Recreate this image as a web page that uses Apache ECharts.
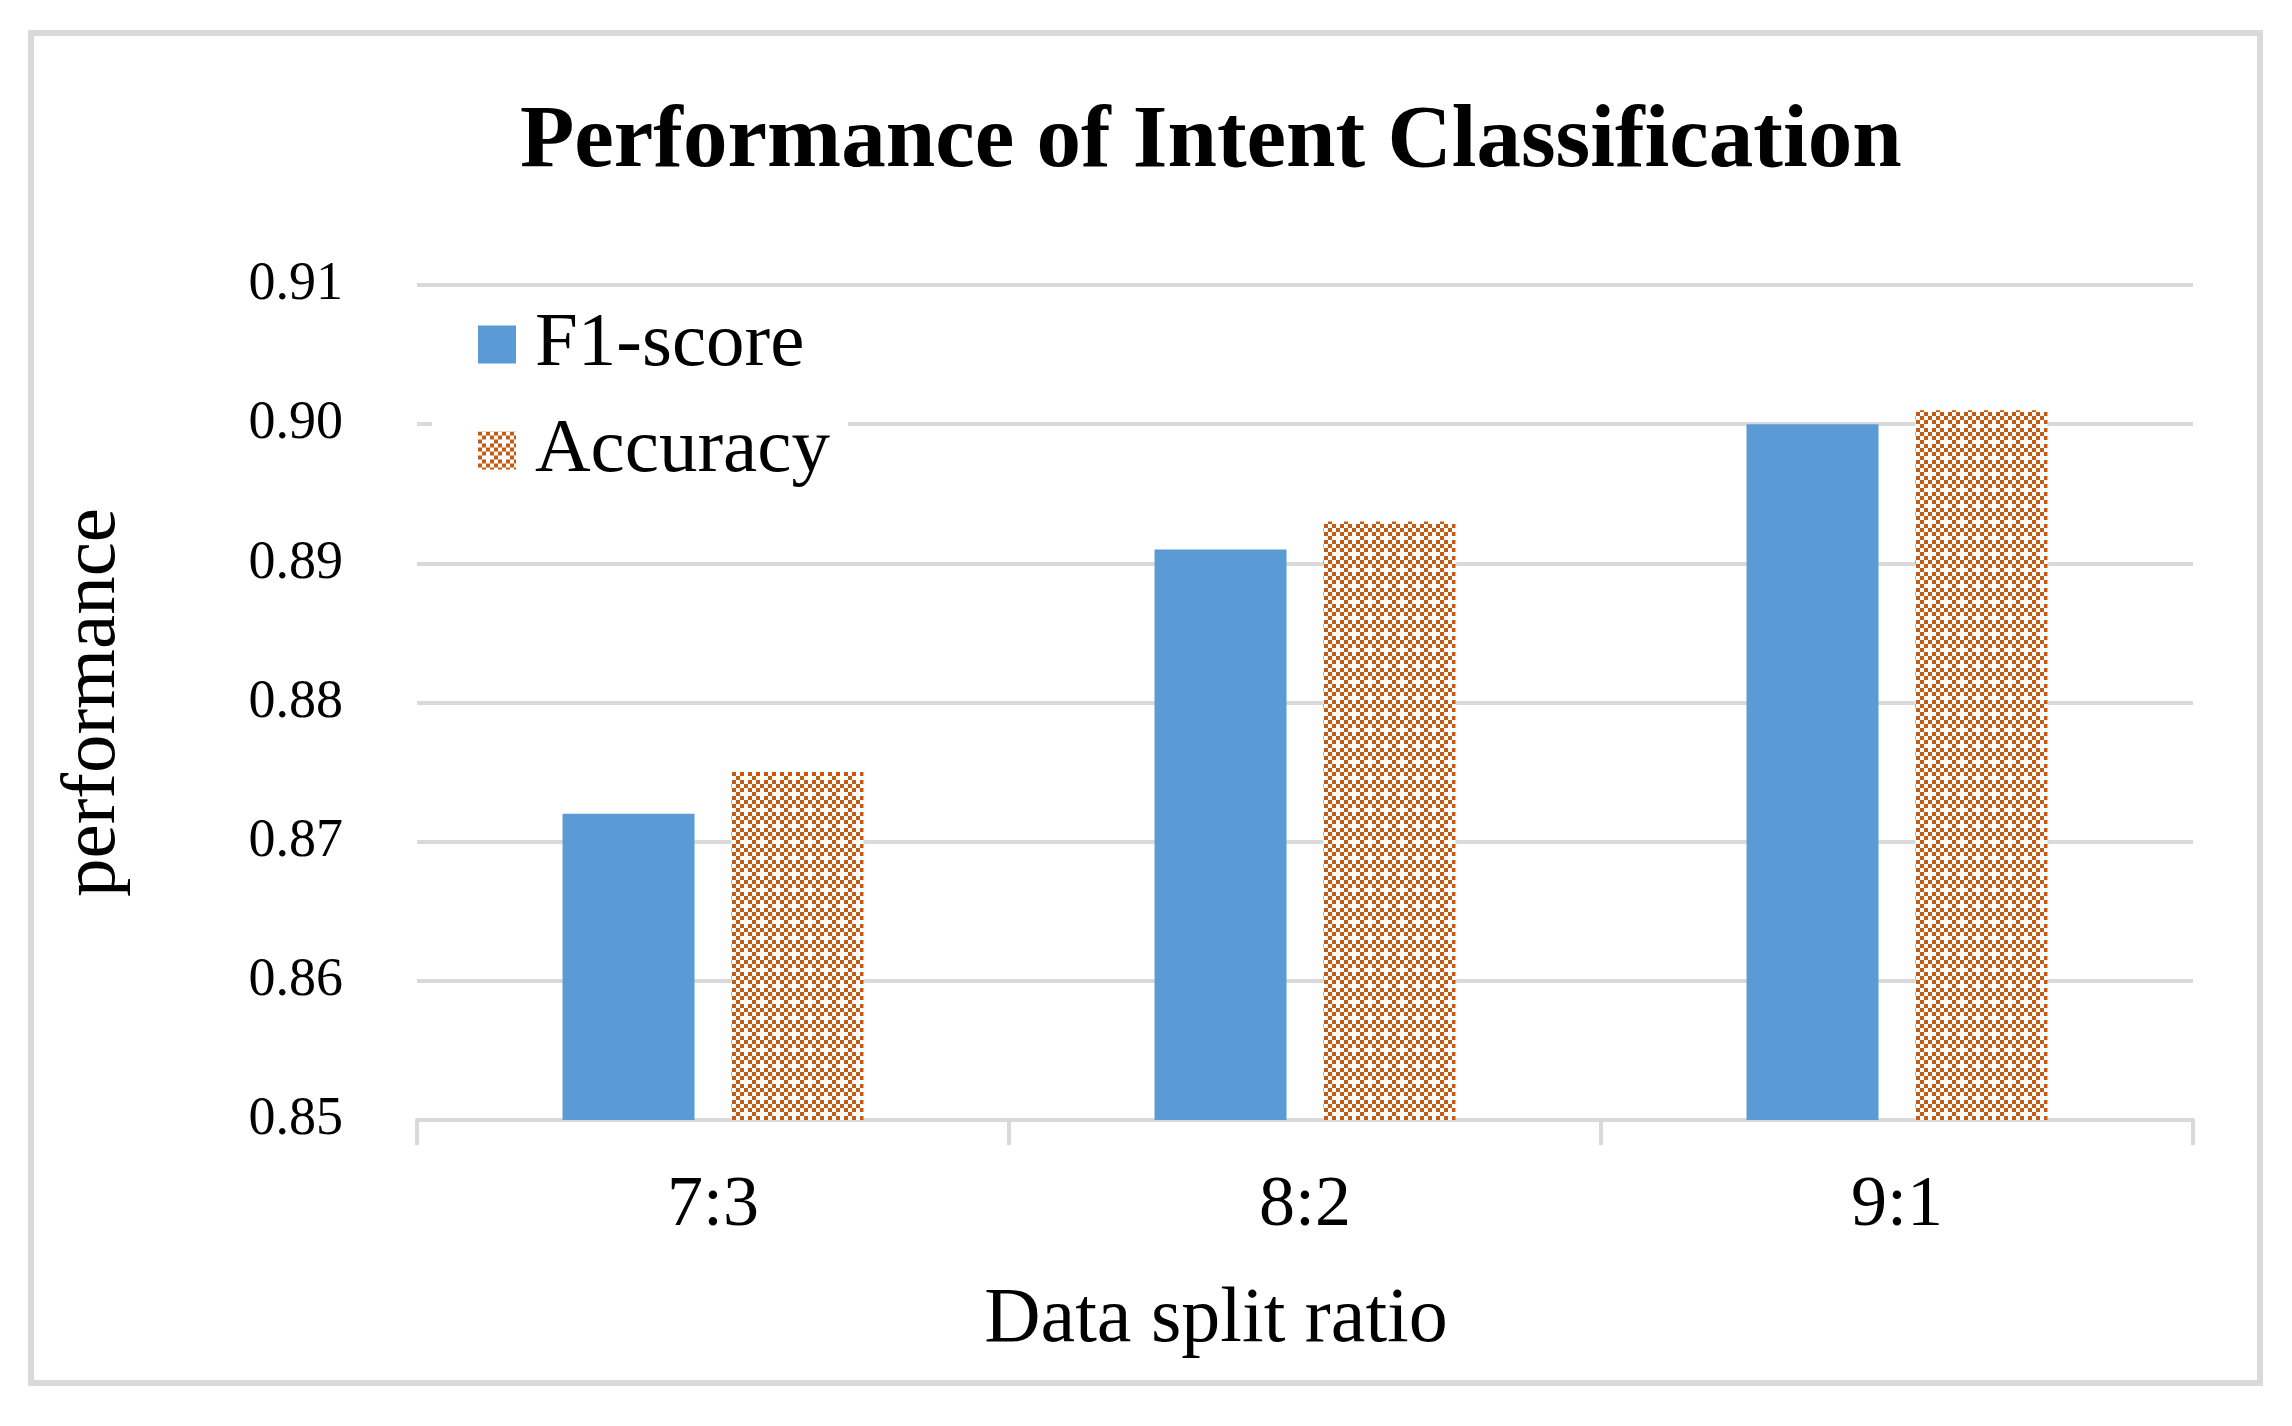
<!DOCTYPE html>
<html>
<head>
<meta charset="utf-8">
<script src="https://cdn.jsdelivr.net/npm/echarts@6/dist/echarts.min.js"></script>
<style>
html,body{margin:0;padding:0;background:#fff;}
#chart{width:2292px;height:1426px;}
</style>
</head>
<body>
<div id="chart"></div>
<script>
// ---- data ----
const categories = ['7:3', '8:2', '9:1'];
const f1Score = [0.872, 0.891, 0.900];
const accuracy = [0.875, 0.893, 0.901];
const seriesNames = ['F1-score', 'Accuracy'];
const yTicks = { min: 0.85, max: 0.91, step: 0.01 };
const titleText = 'Performance of Intent Classification';
const xAxisName = 'Data split ratio';
const yAxisName = 'performance';

// ---- pattern for Accuracy bars ----
function makePattern() {
  const c = document.createElement('canvas');
  const cell = 4, n = 4;
  c.width = cell * n; c.height = cell * n;
  const ctx = c.getContext('2d');
  ctx.fillStyle = '#ffffff';
  ctx.fillRect(0, 0, c.width, c.height);
  for (let i = 0; i < n; i++) {
    for (let j = 0; j < n; j++) {
      if ((i + j) % 2 === 0 && !(i === 2 && j === 2)) {
        ctx.fillStyle = '#C55A11';
        ctx.fillRect(i * cell, j * cell, cell, cell);
      }
    }
  }
  return c;
}

const FONT = "'Liberation Serif', 'Times New Roman', serif";
const chart = echarts.init(document.getElementById('chart'), null, { renderer: 'canvas' });

chart.setOption({
  backgroundColor: '#ffffff',
  animation: false,
  graphic: [{
    type: 'rect',
    shape: { x: 31, y: 33, width: 2229, height: 1350 },
    style: { fill: 'none', stroke: '#d9d9d9', lineWidth: 6 },
    z: -1
  }],
  title: {
    text: titleText,
    left: 515,
    top: 94,
    textStyle: { fontFamily: FONT, fontWeight: 'bold', fontSize: 89, color: '#000' }
  },
  legend: {
    orient: 'vertical',
    left: 432,
    top: 290,
    padding: [16, 18, 12, 46],
    backgroundColor: '#ffffff',
    itemWidth: 38,
    itemHeight: 38,
    itemGap: 29,
    icon: 'rect',
    data: seriesNames,
    textStyle: { fontFamily: FONT, fontSize: 77, color: '#000', padding: [0, 0, 0, 14] }
  },
  grid: { left: 417, right: 99, top: 285, bottom: 306 },
  xAxis: {
    type: 'category',
    data: categories,
    name: xAxisName,
    nameLocation: 'middle',
    nameGap: 162,
    nameTextStyle: { fontFamily: FONT, fontSize: 78, color: '#000', padding: [0, 178, 0, 0] },
    axisLine: { lineStyle: { color: '#d9d9d9', width: 4 } },
    axisTick: { show: true, length: 25, lineStyle: { color: '#d9d9d9', width: 4 } },
    axisLabel: { fontFamily: FONT, fontSize: 72, color: '#000', margin: 50 }
  },
  yAxis: {
    type: 'value',
    min: yTicks.min,
    max: yTicks.max,
    interval: yTicks.step,
    name: yAxisName,
    nameLocation: 'middle',
    nameRotate: 90,
    nameGap: 285,
    nameTextStyle: { fontFamily: FONT, fontSize: 77, color: '#000' },
    axisLine: { show: false },
    axisTick: { show: false },
    splitLine: { lineStyle: { color: '#d9d9d9', width: 4 } },
    axisLabel: {
      fontFamily: FONT, fontSize: 54, color: '#000', margin: 74,
      formatter: v => v.toFixed(2)
    }
  },
  series: [
    {
      name: seriesNames[0],
      type: 'bar',
      data: f1Score,
      barWidth: 132,
      barGap: '28%',
      itemStyle: { color: '#5B9BD5' }
    },
    {
      name: seriesNames[1],
      type: 'bar',
      data: accuracy,
      barWidth: 132,
      barGap: '28%',
      itemStyle: { color: { image: makePattern(), repeat: 'repeat' } }
    }
  ]
});
</script>
</body>
</html>
